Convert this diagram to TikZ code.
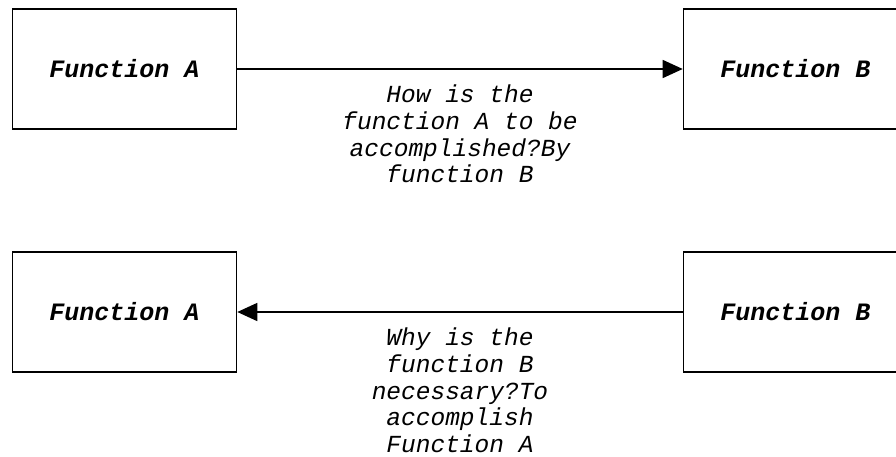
\documentclass[tikz,border=0pt]{standalone}
\usepackage{fontspec}
\setmonofont{Liberation Mono}
\usetikzlibrary{arrows.meta}

\begin{document}
\begin{tikzpicture}[x=1pt,y=-1pt,
	fbox/.style={draw,line width=1.6pt,minimum width=224pt,minimum height=120pt,inner sep=0pt,
		font=\fontsize{25}{27}\selectfont\ttfamily\bfseries\itshape},
	link/.style={line width=1.5pt,-{Triangle[length=20pt,width=18pt]}},
	why/.style={anchor=north,align=center,inner sep=0pt,yshift=-15pt,
		font=\fontsize{24.5}{26.8}\selectfont\ttfamily\itshape}]
	\useasboundingbox (0,0) rectangle (896,457);
	\clip (0,0) rectangle (896,457);
	\node [fbox] (funcA1) at (124.5,69) {Function A};
	\node [fbox] (funcB1) at ([xshift=671pt]funcA1.center) {Function B};
	\node [fbox] (funcA2) at ([yshift=-243pt]funcA1.center) {Function A};
	\node [fbox] (funcB2) at ([yshift=-243pt]funcB1.center) {Function B};
	\draw [link] (funcA1) -- node [why] (how) {How is the\\function A to be\\accomplished?By\\function B} (funcB1);
	\draw [link] (funcB2) -- node [why] (whynode) {Why is the\\function B\\necessary?To\\accomplish\\Function A} (funcA2);
\end{tikzpicture}
\end{document}
